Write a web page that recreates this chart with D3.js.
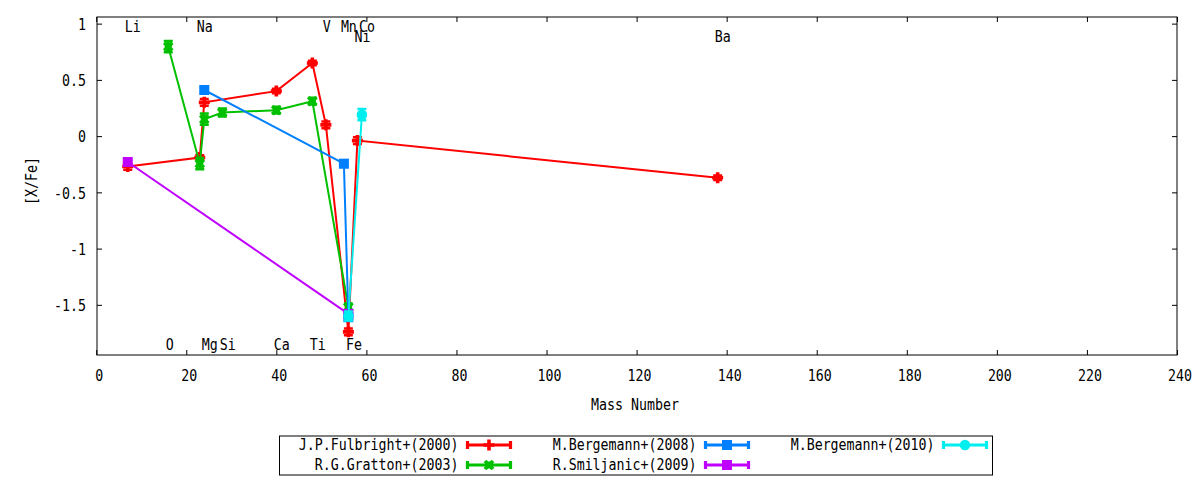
<!DOCTYPE html>
<html>
<head>
<meta charset="utf-8">
<script src="https://cdn.jsdelivr.net/npm/d3@7/dist/d3.min.js"></script>
<style>
  html, body { margin: 0; padding: 0; background: #fff; }
  svg { display: block; }
  text { font-family: "DejaVu Sans Mono", monospace; font-size: 15.5px; fill: #000; }
</style>
</head>
<body>
<svg id="chart" width="1200" height="480"></svg>
<script>
// ---------------- data ----------------
const xTicks = [0, 20, 40, 60, 80, 100, 120, 140, 160, 180, 200, 220, 240];
const yTicks = [-1.5, -1, -0.5, 0, 0.5, 1];
const xTitle = "Mass Number";
const yTitle = "[X/Fe]";

const topRow1Elements = ["Li", "Na", "V", "Mn", "Co"];
const topRow1Mass     = [7, 23, 51, 55, 59];
const topRow2Elements = ["Ni", "Ba"];
const topRow2Mass     = [58, 138];
const bottomElements  = ["O", "Mg", "Si", "Ca", "Ti", "Fe"];
const bottomMass      = [16, 24, 28, 40, 48, 56];

const seriesNames = ["J.P.Fulbright+(2000)", "R.G.Gratton+(2003)", "M.Bergemann+(2008)", "R.Smiljanic+(2009)", "M.Bergemann+(2010)"];

const fulbrightMass = [7, 23, 24, 40, 48, 51, 56, 58, 138];
const fulbrightVal  = [-0.27, -0.19, 0.30, 0.40, 0.65, 0.10, -1.74, -0.04, -0.37];
const fulbrightErr  = [0.03, 0.02, 0.03, 0.02, 0.02, 0.03, 0.03, 0.03, 0.02];

const grattonMass = [16, 23, 24, 28, 40, 48, 56];
const grattonVal  = [0.795, -0.245, 0.15, 0.21, 0.23, 0.31, -1.52];
const grattonErr  = [0.05, 0.05, 0.05, 0.035, 0.03, 0.03, 0.03];

const bergemann08Mass = [24, 55, 56];
const bergemann08Val  = [0.41, -0.245, -1.61];
const bergemann08Err  = [0.02, 0.03, 0.03];

const smiljanicMass = [7, 56];
const smiljanicVal  = [-0.23, -1.58];
const smiljanicErr  = [0.02, 0.02];

const bergemann10Mass = [56, 59];
const bergemann10Val  = [-1.60, 0.19];
const bergemann10Err  = [0.04, 0.05];

// ---------------- style / layout ----------------
const colors  = ["#ff0000", "#00c000", "#0080ff", "#c000ff", "#00eeee"];
const markers = ["plus", "cross", "square", "square", "circle"];
const SX = 0.857; // horizontal glyph compression

const svg = d3.select("#chart");
const L = 97, R = 1177, T = 17, B = 355;
const x = d3.scaleLinear().domain([0, 240]).range([L - 0.8, R]);
const y = d3.scaleLinear().domain([-1.946, 1.059]).range([B, T]);

const series = [
  {mass: fulbrightMass, val: fulbrightVal, err: fulbrightErr},
  {mass: grattonMass, val: grattonVal, err: grattonErr},
  {mass: bergemann08Mass, val: bergemann08Val, err: bergemann08Err},
  {mass: smiljanicMass, val: smiljanicVal, err: smiljanicErr},
  {mass: bergemann10Mass, val: bergemann10Val, err: bergemann10Err}
].map((s, i) => ({
  name: seriesNames[i], color: colors[i], marker: markers[i],
  pts: s.mass.map((m, j) => ({m, v: s.val[j], e: s.err[j]}))
}));

function label(g, txt, px, py, anchor) {
  return g.append("text")
    .attr("transform", `translate(${px},${py}) scale(${SX},1)`)
    .attr("text-anchor", anchor || "start")
    .text(txt);
}

function drawMarker(g, type, cx, cy, color) {
  if (type === "plus") {
    g.append("path").attr("d", `M${cx-5.5},${cy}H${cx+5.5}M${cx},${cy-5.5}V${cy+5.5}`)
      .attr("stroke", color).attr("stroke-width", 3.6).attr("fill", "none");
  } else if (type === "cross") {
    g.append("path").attr("d", `M${cx-4},${cy-4}L${cx+4},${cy+4}M${cx-4},${cy+4}L${cx+4},${cy-4}`)
      .attr("stroke", color).attr("stroke-width", 3.8).attr("fill", "none");
    g.append("rect").attr("x", cx-3.5).attr("y", cy-3.5).attr("width", 7).attr("height", 7).attr("fill", color);
  } else if (type === "square") {
    g.append("rect").attr("x", cx-5).attr("y", cy-5).attr("width", 10).attr("height", 10).attr("fill", color);
  } else {
    g.append("circle").attr("cx", cx).attr("cy", cy).attr("r", 5.3).attr("fill", color);
  }
}

// ---------------- axes ----------------
const ax = svg.append("g");
const xb = ax.append("g").attr("transform", `translate(0,${B})`)
  .call(d3.axisBottom(x).tickValues(xTicks).tickSize(-5).tickSizeOuter(0).tickFormat(d => String(d)));
const xt = ax.append("g").attr("transform", `translate(0,${T})`)
  .call(d3.axisTop(x).tickValues(xTicks).tickSize(-5).tickSizeOuter(0).tickFormat(""));
const yl = ax.append("g").attr("transform", `translate(${L},0)`)
  .call(d3.axisLeft(y).tickValues(yTicks).tickSize(-5).tickSizeOuter(0).tickFormat(d => String(d)));
const yr = ax.append("g").attr("transform", `translate(${R},0)`)
  .call(d3.axisRight(y).tickValues(yTicks).tickSize(-5).tickSizeOuter(0).tickFormat(""));
ax.selectAll(".domain").remove();
ax.selectAll(".tick line").attr("stroke", "#000").attr("stroke-width", 1);
ax.selectAll("text").attr("font-family", null).attr("font-size", null).attr("fill", "#000");
xb.selectAll(".tick text").attr("y", 26).attr("dy", null).attr("x", 2.5 / SX)
  .attr("transform", `scale(${SX},1)`);
yl.selectAll(".tick text").attr("x", -11 / SX).attr("dy", null).attr("y", 5.7)
  .attr("transform", `scale(${SX},1)`);

svg.append("rect").attr("x", L).attr("y", T).attr("width", R - L).attr("height", B - T)
  .attr("fill", "none").attr("stroke", "#000").attr("stroke-width", 1);

label(svg, xTitle, (L + R) / 2 - 2, 410, "middle");
svg.append("text")
  .attr("transform", `translate(36.5,181) rotate(-90) scale(${SX},1)`)
  .attr("text-anchor", "middle").text(yTitle);

// element labels
const lab = svg.append("g");
topRow1Elements.forEach((e, i) => label(lab, e, x(topRow1Mass[i]) - 3, 31.7));
topRow2Elements.forEach((e, i) => label(lab, e, x(topRow2Mass[i]) - 3, 42.3));
bottomElements.forEach((e, i) => label(lab, e, x(bottomMass[i]) - 2.5, 350));

// ---------------- data ----------------
const line = d3.line().x(d => x(d.m)).y(d => y(d.v));
series.forEach(s => {
  const g = svg.append("g");
  g.append("path").datum(s.pts).attr("d", line)
    .attr("fill", "none").attr("stroke", s.color).attr("stroke-width", 2);
  s.pts.forEach(p => {
    const cx = x(p.m), y1 = y(p.v - p.e), y2 = y(p.v + p.e);
    g.append("path").attr("d", `M${cx},${y1}V${y2}M${cx-4.5},${y1}H${cx+4.5}M${cx-4.5},${y2}H${cx+4.5}`)
      .attr("stroke", s.color).attr("stroke-width", 2.5).attr("fill", "none");
    drawMarker(g, s.marker, cx, y(p.v), s.color);
  });
});

// ---------------- legend ----------------
const lg = svg.append("g");
lg.append("rect").attr("x", 279.5).attr("y", 436).attr("width", 713).attr("height", 39)
  .attr("fill", "#fff").attr("stroke", "#000").attr("stroke-width", 1);
series.forEach((s, i) => {
  const col = Math.floor(i / 2), row = i % 2;
  const tx = 458.5 + col * 238, cy = 445 + row * 20;
  label(lg, s.name, tx, cy + 4.7, "end");
  const x0 = tx + 9, x1 = tx + 52;
  lg.append("path").attr("d", `M${x0},${cy}H${x1}M${x0},${cy-4}V${cy+4}M${x1},${cy-4}V${cy+4}`)
    .attr("stroke", s.color).attr("stroke-width", 3.2).attr("fill", "none");
  drawMarker(lg, s.marker, (x0 + x1) / 2, cy, s.color);
});
</script>
</body>
</html>
